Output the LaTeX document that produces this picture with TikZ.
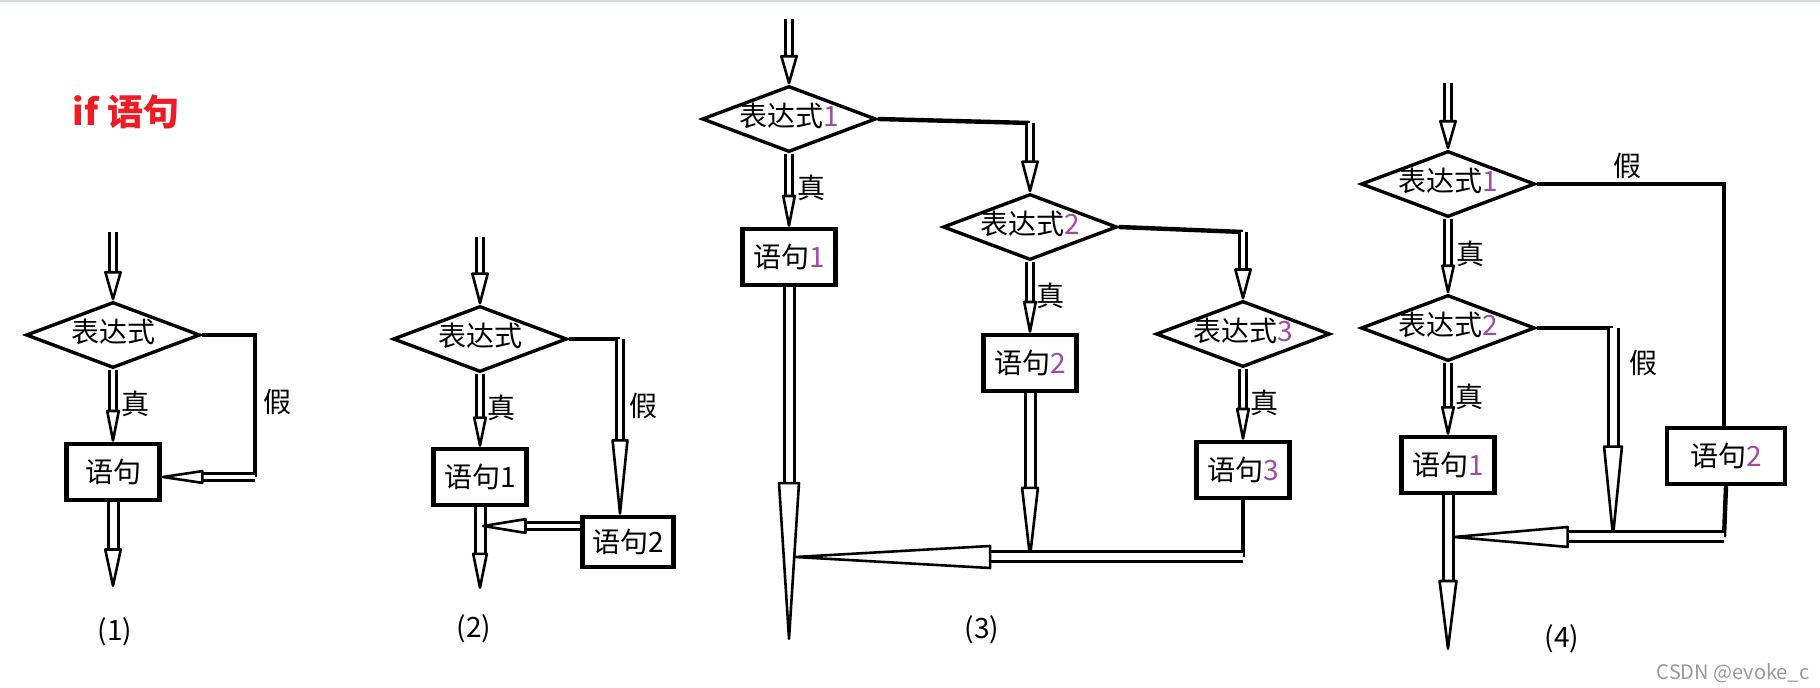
\documentclass[tikz,border=0pt]{standalone}
\usepackage{fontspec}
\newfontfamily\cjk{Noto Sans CJK SC}
\usetikzlibrary{shapes.geometric,arrows.meta}
\definecolor{paintred}{HTML}{ED1C24}
\definecolor{paintpurple}{HTML}{A349A4}
\definecolor{rulegray}{HTML}{D5DCE4}
\newcommand{\pnum}[1]{{\color{paintpurple}#1}}
\begin{document}
\begin{tikzpicture}[x=0.5pt,y=-0.5pt,
    every node/.style={font=\cjk\fontsize{14}{16}\selectfont},
    cond/.style={diamond,draw,line width=1.7pt,aspect=2.6,minimum width=87pt,minimum height=33pt,inner sep=0pt,text height=10pt,text depth=2pt},
    stmt/.style={draw,line width=2.2pt,minimum width=46.5pt,minimum height=28pt,inner sep=0pt},
    wire/.style={line width=2.2pt},
    dbl/.style={double,line width=1.4pt,double distance=1.8pt},
    wide/.style={double,line width=1.5pt,double distance=3.5pt},
    tip/.style 2 args={-{Triangle[open,round,length=#1,width=#2,line width=1.3pt]}}]
        \useasboundingbox (0,0) rectangle (1820,688);
        \draw[rulegray,line width=1pt] (0,1)--(1820,1);

        \node[text=paintred,font=\cjk\bfseries\fontsize{18}{20}\selectfont] (title) at (126,112) {if 语句};

        % (1)
        \coordinate (i1) at (113,232);
        \coordinate (o1) at (113,587);
        \coordinate (k1) at (255,335);
        \coordinate (k1b) at (255,477);
        \node[cond] (d1) at (113,335) {表达式};
        \node[stmt] (s1) at (113,472) {语句};
        \draw[dbl,tip={16.5pt}{9pt}] (i1)--(d1.north);
        \draw[dbl,tip={19pt}{7pt}] (d1.south)--(s1.north);
        \draw[wide,tip={22pt}{9pt}] (s1.south)--(o1);
        \draw[wire] (d1.east)--(k1)--(k1b);
        \draw[dbl,tip={25pt}{7pt}] (k1b)--(s1.east |- k1b);
        \node (t1) at (135,404) {真};
        \node (f1) at (277,402) {假};
        \node (n1) at (115,632) {(1)};

        % (2)
        \coordinate (i2) at (480,237);
        \coordinate (o2) at (480,589);
        \coordinate (k2) at (620,339);
        \coordinate (j2) at (482,526);
        \node[cond] (d2) at (480,339) {表达式};
        \node[stmt] (s21) at (480,477) {语句1};
        \node[stmt,minimum width=45.5pt,minimum height=25pt] (s22) at (628,542) {语句2};
        \draw[dbl,tip={18pt}{9pt}] (i2)--(d2.north);
        \draw[dbl,tip={18pt}{7pt}] (d2.south)--(s21.north);
        \draw[wide,tip={21pt}{8pt}] (s21.south)--(o2);
        \draw[wire] (d2.east)--(k2);
        \draw[dbl,tip={44pt}{8.5pt}] (k2)--(k2 |- s22.north);
        \draw[dbl,tip={26pt}{8pt}] (s22.west |- j2)--(j2);
        \node (t2) at (501,408) {真};
        \node (f2) at (643,406) {假};
        \node (n2) at (474,629) {(2)};

        % (3)
        \coordinate (i3) at (789,19);
        \coordinate (o3) at (789,640);
        \coordinate (k31) at (1030,123);
        \coordinate (k32) at (1243,232);
        \coordinate (e32) at (1030,558);
        \coordinate (m3) at (1243,557);
        \coordinate (j3) at (794,557);
        \node[cond] (d31) at (789,119) {表达式\pnum{1}};
        \node[cond] (d32) at (1030,227) {表达式\pnum{2}};
        \node[cond] (d33) at (1243,334) {表达式\pnum{3}};
        \node[stmt] (s31) at (789,257) {语句\pnum{1}};
        \node[stmt] (s32) at (1030,363) {语句\pnum{2}};
        \node[stmt] (s33) at (1243,470) {语句\pnum{3}};
        \draw[dbl,tip={16.5pt}{9pt}] (i3)--(d31.north);
        \draw[dbl,tip={19pt}{7pt}] (d31.south)--(s31.north);
        \draw[dbl,tip={19pt}{7pt}] (d32.south)--(s32.north);
        \draw[dbl,tip={19pt}{7pt}] (d33.south)--(s33.north);
        \draw[wire] (d31.east)--(k31);
        \draw[dbl,tip={18pt}{9pt}] (k31)--(d32.north);
        \draw[wire] (d32.east)--(k32);
        \draw[dbl,tip={17.5pt}{9pt}] (k32)--(d33.north);
        \draw[wide,tip={89pt}{11pt}] (s31.south)--(o3);
        \draw[wide,tip={41pt}{9pt}] (s32.south)--(e32);
        \draw[wire] (s33.south)--(m3);
        \draw[wide,tip={110pt}{12pt}] (m3)--(j3);
        \node (t31) at (811,188) {真};
        \node (t32) at (1050,296) {真};
        \node (t33) at (1264,403) {真};
        \node (n3) at (982,630) {(3)};

        % (4)
        \coordinate (i4) at (1448,83);
        \coordinate (o4) at (1448,650);
        \coordinate (k41) at (1724,184);
        \coordinate (k42) at (1613,328);
        \coordinate (m4) at (1724,537);
        \coordinate (j4) at (1453,537);
        \node[cond] (d41) at (1448,184) {表达式\pnum{1}};
        \node[cond] (d42) at (1448,328) {表达式\pnum{2}};
        \node[stmt] (s41) at (1448,465) {语句\pnum{1}};
        \node[stmt,minimum width=59pt] (s42) at (1726,456) {语句\pnum{2}};
        \draw[dbl,tip={16.5pt}{9pt}] (i4)--(d41.north);
        \draw[dbl,tip={17pt}{7pt}] (d41.south)--(d42.north);
        \draw[dbl,tip={17pt}{7pt}] (d42.south)--(s41.north);
        \draw[wire] (d41.east)--(k41)--(k41 |- s42.north);
        \draw[wire] (d42.east)--(k42);
        \draw[wide,tip={52pt}{10pt}] (k42)--(k42 |- m4);
        \draw[wide,tip={40pt}{9.5pt}] (s41.south)--(o4);
        \draw[wire] (s42.south)--(m4);
        \draw[wide,tip={65pt}{11pt}] (m4)--(j4);
        \node (f41) at (1627,166) {假};
        \node (t41) at (1470,254) {真};
        \node (f42) at (1643,363) {假};
        \node (t42) at (1469,397) {真};
        \node (n4) at (1562,639) {(4)};

        \node[text=black!40,font=\cjk\fontsize{10}{12}\selectfont] (mark) at (1733,673) {CSDN @evoke\_c};
\end{tikzpicture}
\end{document}
